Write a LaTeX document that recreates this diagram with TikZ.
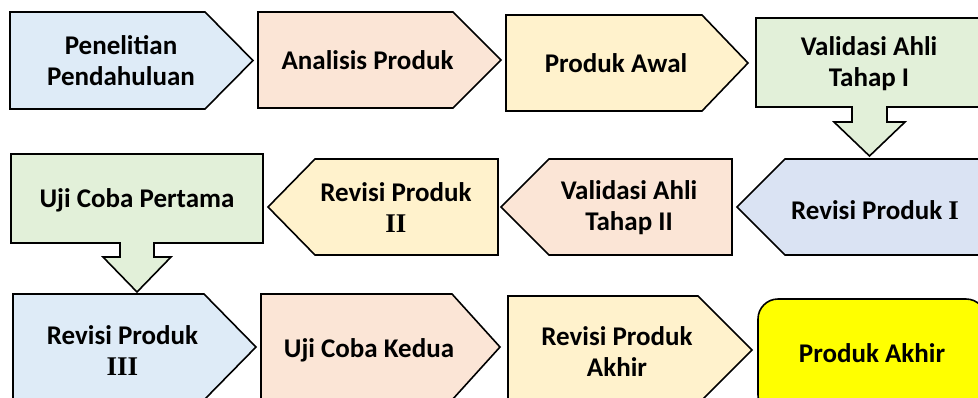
\documentclass[tikz,border=0pt]{standalone}
\usepackage{fontspec}
\setmainfont{Carlito}
\newfontfamily\tnr{Liberation Serif}
\definecolor{cblue}{HTML}{DEEBF7}
\definecolor{cblueb}{HTML}{DAE3F3}
\definecolor{cpeach}{HTML}{FBE5D6}
\definecolor{ccream}{HTML}{FFF2CC}
\definecolor{cgreen}{HTML}{E2F0D9}
\definecolor{cyell}{HTML}{FFFF00}
\newcommand{\rn}[1]{{\tnr\bfseries #1}}
\tikzset{
  shp/.style={draw=black, line width=1.6pt, line join=miter},
  lbl/.style={align=center, inner sep=0pt, font=\fontsize{27}{31}\selectfont\bfseries}
}
\begin{document}
\begin{tikzpicture}[x=1pt,y=-1pt]
\useasboundingbox (0,0) rectangle (978,397);
\clip (0,0) rectangle (978,397);
% Row 1
\draw[shp, fill=cblue] (10,12) -- (205,12) -- (253,60.5) -- (205,109) -- (10,109) -- cycle;
\node[lbl] (n1) at (121,60.5) {Penelitian\\Pendahuluan};
\draw[shp, fill=cpeach] (258,12) -- (453,12) -- (501,60) -- (453,108) -- (258,108) -- cycle;
\node[lbl] (n2) at (367.5,60) {Analisis Produk};
\draw[shp, fill=ccream] (506,15) -- (702,15) -- (748,63) -- (702,111) -- (506,111) -- cycle;
\node[lbl] (n3) at (616,63) {Produk Awal};
\draw[shp, fill=cgreen] (852,100) -- (852,122) -- (834,122) -- (869.5,156) -- (905,122) -- (887,122) -- (887,100);
\draw[shp, fill=cgreen] (756,18) rectangle (985,107);
\fill[cgreen] (853,100) rectangle (886,123);
\node[lbl] (n4) at (869,64) {Validasi Ahli\\Tahap I};
% Row 2
\draw[shp, fill=cblueb] (737,207) -- (785,159) -- (990,159) -- (990,255) -- (785,255) -- cycle;
\node[lbl] (n5) at (875,210) {Revisi Produk \rn{I}};
\draw[shp, fill=cpeach] (501,207) -- (549,159) -- (732,159) -- (732,255) -- (549,255) -- cycle;
\node[lbl] (n6) at (629,208) {Validasi Ahli\\Tahap II};
\draw[shp, fill=ccream] (268,207) -- (315,159) -- (498,159) -- (498,255) -- (315,255) -- cycle;
\node[lbl] (n7) at (396,208) {Revisi Produk\\\rn{II}};
\draw[shp, fill=cgreen] (120,236) -- (120,257) -- (103,257) -- (137,292) -- (171,257) -- (154,257) -- (154,236);
\draw[shp, fill=cgreen] (11,154) rectangle (263,243);
\fill[cgreen] (121,236) rectangle (153,258);
\node[lbl] (n8) at (137,200) {Uji Coba Pertama};
% Row 3
\draw[shp, fill=cblue] (13,294) -- (204,294) -- (256,347) -- (204,400) -- (13,400) -- cycle;
\node[lbl] (n9) at (122.5,351) {Revisi Produk\\\rn{III}};
\draw[shp, fill=cpeach] (261,294) -- (452,294) -- (500,347) -- (452,400) -- (261,400) -- cycle;
\node[lbl] (n10) at (369,350) {Uji Coba Kedua};
\draw[shp, fill=ccream] (508,296) -- (698,296) -- (752,350) -- (698,404) -- (508,404) -- cycle;
\node[lbl] (n11) at (617,352) {Revisi Produk\\Akhir};
\draw[shp, fill=cyell, rounded corners=20pt] (758,299) rectangle (986,415);
\node[lbl] (n12) at (872,353) {Produk Akhir};
\end{tikzpicture}
\end{document}
